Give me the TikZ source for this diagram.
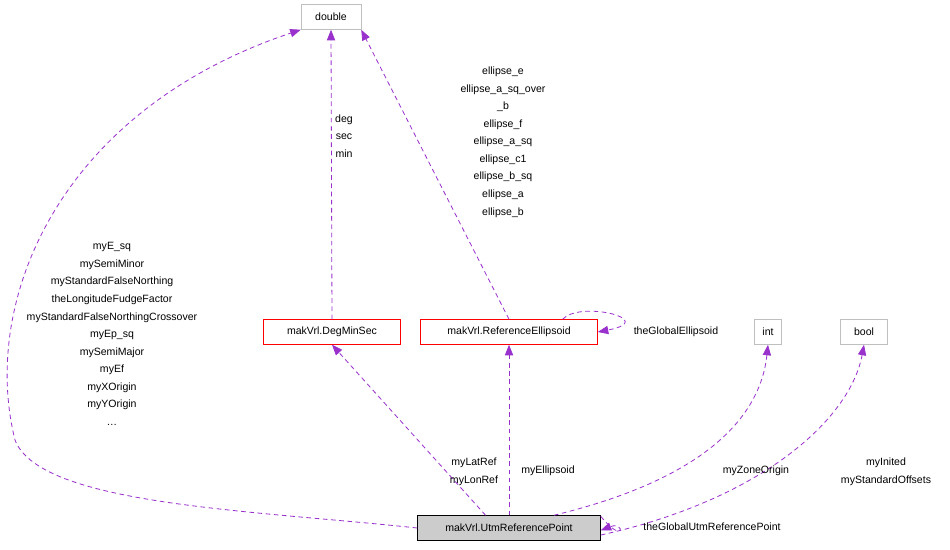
\documentclass[tikz,border=0pt]{standalone}
\usepackage{fontspec}
\setmainfont{Liberation Sans}
\usetikzlibrary{arrows.meta}
\definecolor{edgepurple}{RGB}{153,50,204}
\tikzset{
  cls/.style={draw=#1, fill=white, minimum height=0.75cm, inner xsep=4pt, font=\fontsize{9}{10}\selectfont},
  dep/.style={draw=edgepurple, dash pattern=on 4pt off 3pt, line width=0.7pt, -{Triangle[length=9pt,width=7pt,fill=edgepurple]}},
  lbl/.style={font=\fontsize{9}{15}\selectfont, align=center, inner sep=1pt}
}
\begin{document}
\begin{tikzpicture}[x=0.03cm,y=-0.03cm]
\useasboundingbox (0,0) rectangle (950,549);

% classes
\node[cls=lightgray, minimum width=60*0.03cm] (dbl) at (331,17) {double};
\node[cls=red, minimum width=137*0.03cm] (dms) at (332,332) {makVrl.DegMinSec};
\node[cls=red, minimum width=177*0.03cm] (ell) at (509,332) {makVrl.ReferenceEllipsoid};
\node[cls=lightgray, minimum width=27*0.03cm] (int) at (768,332) {int};
\node[cls=lightgray, minimum width=47*0.03cm] (bool) at (864,332) {bool};
\node[cls=black, fill=lightgray!80, minimum width=183*0.03cm] (utm) at (509,528) {makVrl.UtmReferencePoint};

% edges
\draw[dep] (utm.west) .. controls (250,510) and (40,505) .. (15,440)
  .. controls (-20,300) and (60,110) .. (dbl.south west);
\draw[dep] (dms.north) -- (dbl.south);
\draw[dep] (ell.north) -- (dbl.south east);
\coordinate (ellout) at ([xshift=-30]ell.north east);
\coordinate (ellin) at (ell.east);
\draw[dep] (ellout) .. controls (580,300) and (660,320) .. (ellin);
\draw[dep] ([xshift=-20]utm.north) -- (dms.south);
\draw[dep] (utm.north) -- (ell.south);
\draw[dep] ([xshift=-40]utm.north east) .. controls (700,480) and (760,420) .. (int.south);
\draw[dep] ([yshift=-6]utm.east) .. controls (760,500) and (850,420) .. (bool.south);
\draw[dep] ([yshift=10]utm.east) .. controls (625,546) and (625,521) .. ([yshift=-2]utm.east);

% labels
\node[lbl] at (112,334) {myE\_sq\\mySemiMinor\\myStandardFalseNorthing\\theLongitudeFudgeFactor\\myStandardFalseNorthingCrossover\\myEp\_sq\\mySemiMajor\\myEf\\myXOrigin\\myYOrigin\\\dots};
\node[lbl] at (344,136) {deg\\sec\\min};
\node[lbl] at (503,142) {ellipse\_e\\ellipse\_a\_sq\_over\\\_b\\ellipse\_f\\ellipse\_a\_sq\\ellipse\_c1\\ellipse\_b\_sq\\ellipse\_a\\ellipse\_b};
\node[lbl] at (676,332) {theGlobalEllipsoid};
\node[lbl] at (474,472) {myLatRef\\myLonRef};
\node[lbl] at (548,471) {myEllipsoid};
\node[lbl] at (756,471) {myZoneOrigin};
\node[lbl] at (886,472) {myInited\\myStandardOffsets};
\node[lbl] at (712,527) {theGlobalUtmReferencePoint};
\end{tikzpicture}
\end{document}
